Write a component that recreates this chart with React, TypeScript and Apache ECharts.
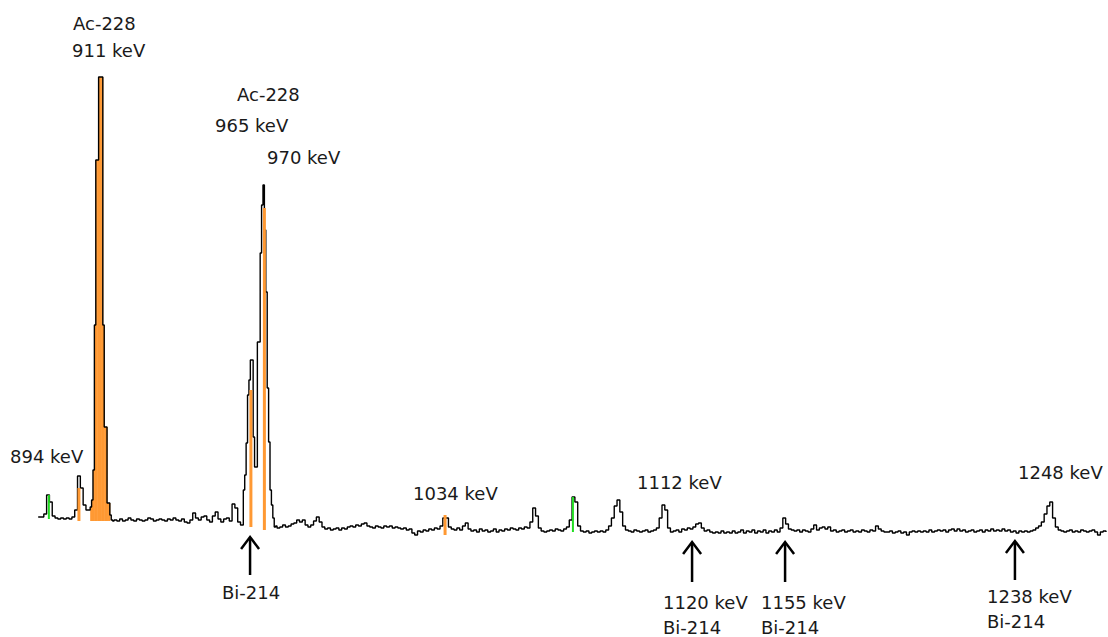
import React, { useEffect, useRef } from "react";
import * as echarts from "echarts";

// Gamma spectrum, counts per channel (arbitrary units). Energies in keV.
// Segment 1: 889..905 keV, 1 keV channels
const lowStart = 889;
const lowStep = 1;
const lowCounts = [23, 23, 26, 45, 38, 24, 22, 21, 22, 21, 22, 21, 23, 30, 64, 52, 35];

// Segment 2: 906..915.5 keV, 0.5 keV channels (Ac-228 911 keV)
const peak911Start = 906;
const peak911Step = 0.5;
const peak911Counts = [30, 30, 30, 33, 40, 70, 215, 380, 380, 463, 463, 463, 215, 113, 113, 37, 37, 25, 20, 19];

// Segment 3: 916..960 keV, 1 keV channels
const midStart = 916;
const midStep = 1;
const midCounts = [
  20, 19, 21, 19, 20, 22, 20, 19, 21, 20,
  19, 20, 22, 21, 19, 20, 21, 20, 19, 21,
  20, 22, 20, 19, 21, 18, 17, 20, 27, 22,
  20, 23, 24, 20, 18, 24, 28, 21, 18, 21,
  22, 19, 36, 32, 18,
];

// Segment 4: 961..973.5 keV, 0.5 keV channels (965 / 970 keV doublet)
const doubletStart = 961;
const doubletStep = 0.5;
const doubletCounts = [15, 15, 50, 65, 97, 145, 160, 180, 180, 103, 73, 73, 198, 198, 287, 335, 355, 310, 248, 152, 98, 50, 35, 22, 13, 14];

// Segment 5: 974..1269 keV, 1 keV channels
const highStart = 974;
const highStep = 1;
const highCounts = [
  12, 13, 15, 13, 14, 16, 17, 20, 18, 20,
  15, 13, 15, 19, 23, 18, 13, 11, 12, 10,
  11, 12, 10, 12, 11, 13, 14, 13, 15, 14,
  16, 17, 14, 13, 12, 14, 13, 12, 14, 13,
  14, 12, 13, 12, 11, 12, 10, 11, 7, 5,
  9, 8, 10, 9, 11, 10, 12, 11, 14, 22,
  22, 13, 11, 10, 12, 10, 14, 17, 11, 9,
  10, 8, 11, 9, 10, 8, 9, 11, 8, 10,
  9, 11, 10, 12, 11, 10, 12, 11, 13, 12,
  18, 32, 24, 12, 9, 8, 9, 10, 9, 11,
  10, 9, 11, 13, 20, 43, 38, 14, 9, 8,
  9, 7, 8, 9, 8, 9, 8, 10, 14, 22,
  34, 40, 28, 14, 10, 9, 8, 10, 9, 8,
  9, 10, 8, 9, 10, 12, 22, 35, 30, 12,
  8, 9, 10, 8, 11, 10, 12, 11, 13, 16,
  17, 12, 9, 10, 8, 7, 8, 7, 9, 7,
  8, 7, 9, 7, 8, 10, 7, 9, 8, 10,
  7, 9, 8, 10, 7, 9, 8, 10, 8, 12,
  22, 16, 11, 10, 9, 10, 8, 10, 9, 8,
  11, 15, 10, 12, 13, 11, 13, 9, 10, 8,
  9, 10, 8, 9, 10, 8, 9, 8, 10, 9,
  8, 10, 9, 14, 11, 9, 8, 8, 9, 7,
  8, 9, 7, 8, 5, 8, 9, 8, 9, 8,
  9, 8, 10, 8, 9, 10, 9, 10, 8, 10,
  11, 9, 11, 9, 10, 8, 9, 10, 8, 9,
  10, 8, 10, 9, 11, 9, 10, 9, 11, 9,
  10, 8, 9, 7, 9, 8, 9, 8, 9, 10,
  12, 14, 18, 26, 34, 38, 22, 13, 10, 9,
  8, 9, 10, 8, 9, 8, 10, 9, 8, 9,
  10, 8, 5, 8, 9, 8,
];

// Orange-filled region of the 911 keV peak
const fillFrom = 907.5;
const fillTo = 914.5;
const fillFloor = 19;

// ROI markers: [energy keV, low count, high count]
const orangeMarks = [
  [903.5, 19, 52],
  [964.7, 13, 150],
  [969.5, 10, 332],
  [1033.8, 5, 25],
];
const greenMarks = [
  [892.8, 21, 45],
  [1079.3, 8, 43],
];

// Annotation texts
const peakLabels = [
  { text: "Ac-228", x: 73, y: 23 },
  { text: "911 keV", x: 72, y: 50 },
  { text: "Ac-228", x: 237, y: 94 },
  { text: "965 keV", x: 215, y: 125 },
  { text: "970 keV", x: 267, y: 157 },
  { text: "894 keV", x: 10, y: 456 },
  { text: "1034 keV", x: 413, y: 493 },
  { text: "1112 keV", x: 637, y: 482 },
  { text: "1248 keV", x: 1018, y: 472 },
  { text: "Bi-214", x: 222, y: 592 },
  { text: "1120 keV", x: 663, y: 602 },
  { text: "Bi-214", x: 663, y: 627 },
  { text: "1155 keV", x: 761, y: 602 },
  { text: "Bi-214", x: 761, y: 627 },
  { text: "1238 keV", x: 987, y: 596 },
  { text: "Bi-214", x: 987, y: 621 },
];

// Arrows pointing at Bi-214 lines (energy keV)
const arrowEnergies = [964.4, 1121.7, 1154.8, 1236.6];
const arrowTops = [537, 542, 542, 541];
const arrowBottoms = [575, 582, 582, 580];

const ORANGE = "#ff9933";
const GREEN = "#22dd22";

function channels(start: number, step: number, counts: number[]) {
  return counts.map((c, i) => [start + i * step, c]);
}

const spectrum = [
  ...channels(lowStart, lowStep, lowCounts),
  ...channels(peak911Start, peak911Step, peak911Counts),
  ...channels(midStart, midStep, midCounts),
  ...channels(doubletStart, doubletStep, doubletCounts),
  ...channels(highStart, highStep, highCounts),
];

function markerSeries(data: number[][], color: string, width: number) {
  return {
    type: "custom",
    z: 5,
    data,
    encode: { x: 0, y: 1 },
    renderItem: (_params: any, api: any) => {
      const e = api.value(0);
      const lo = api.coord([e, api.value(1)]);
      const hi = api.coord([e, api.value(2)]);
      return {
        type: "rect",
        shape: { x: hi[0] - width / 2, y: hi[1], width, height: lo[1] - hi[1] },
        style: { fill: color },
      };
    },
  };
}

export default function App() {
  const ref = useRef<HTMLDivElement>(null);
  useEffect(() => {
    if (!ref.current) return;
    const chart = echarts.init(ref.current, null, { renderer: "svg" });
    const fillPts = spectrum.filter(([e]) => e >= fillFrom && e <= fillTo);
    // each filled channel: [energy start, energy end, counts]
    const fillBins = fillPts.slice(0, -1).map(([e, c], i) => [e, fillPts[i + 1][0], c]);
    chart.setOption({
      animation: false,
      backgroundColor: "#ffffff",
      grid: { left: 0, right: 0, top: 0, bottom: 97 },
      xAxis: { type: "value", min: 875.41, max: 1269.72, show: false },
      yAxis: { type: "value", min: 0, max: 540, show: false },
      series: [
        {
          type: "custom",
          z: 1,
          data: fillBins,
          encode: { x: 0, y: 2 },
          renderItem: (_params: any, api: any) => {
            const p1 = api.coord([api.value(0), api.value(2)]);
            const p2 = api.coord([api.value(1), fillFloor]);
            return {
              type: "rect",
              shape: { x: p1[0], y: p1[1], width: p2[0] - p1[0] + 0.5, height: p2[1] - p1[1] },
              style: { fill: ORANGE },
            };
          },
        },
        {
          type: "line",
          step: "end",
          symbol: "none",
          z: 3,
          lineStyle: { color: "#000", width: 1.4 },
          data: spectrum,
        },
        markerSeries(orangeMarks, ORANGE, 3),
        markerSeries(greenMarks, GREEN, 2),
      ],
    });

    const font = '18px "DejaVu Sans"';
    const graphics: any[] = peakLabels.map((l) => ({
      type: "text",
      x: l.x,
      y: l.y,
      z: 10,
      style: { text: l.text, font, fill: "#1a1a1a", align: "left", verticalAlign: "middle" },
    }));
    arrowEnergies.forEach((e, i) => {
      const x = chart.convertToPixel({ xAxisIndex: 0 }, e) as number;
      const top = arrowTops[i];
      const bottom = arrowBottoms[i];
      graphics.push({
        type: "group",
        z: 10,
        children: [
          {
            type: "line",
            shape: { x1: x, y1: top + 1, x2: x, y2: bottom },
            style: { stroke: "#000", lineWidth: 2.5 },
          },
          {
            type: "polyline",
            shape: { points: [[x - 9, top + 12], [x, top], [x + 9, top + 12]] },
            style: { stroke: "#000", lineWidth: 2.5, fill: "none" },
          },
        ],
      });
    });
    chart.setOption({ graphic: graphics });
    return () => chart.dispose();
  }, []);
  return (
    <div
      ref={ref}
      style={{ position: "fixed", left: 0, top: 0, width: 1108, height: 637, background: "#fff" }}
    />
  );
}
